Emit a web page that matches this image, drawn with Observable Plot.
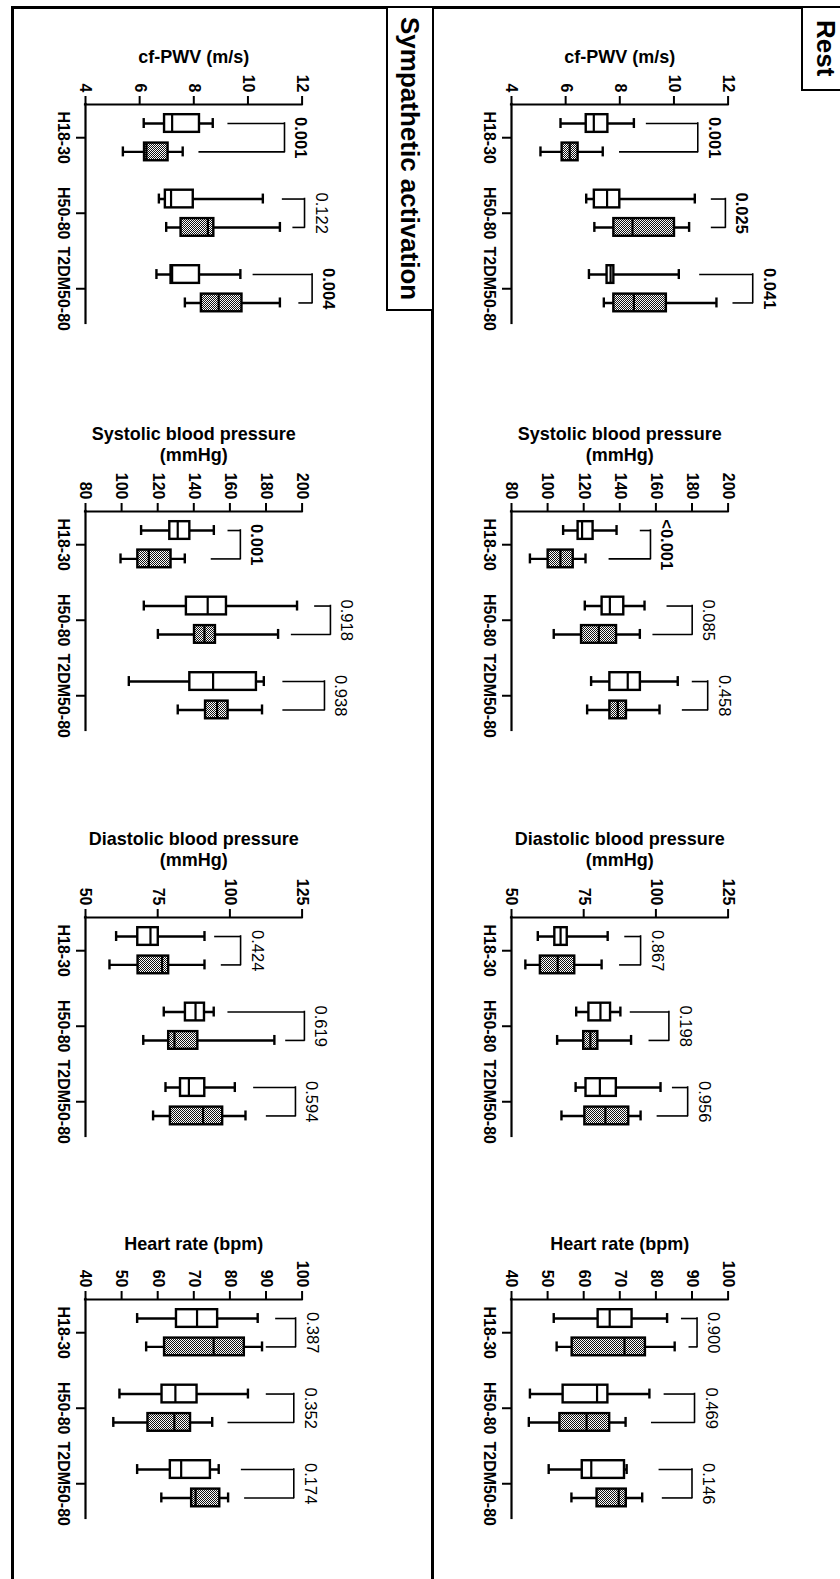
<!DOCTYPE html>
<html><head><meta charset="utf-8">
<script src="https://cdn.jsdelivr.net/npm/d3@7"></script>
<script src="https://cdn.jsdelivr.net/npm/@observablehq/plot@0.6"></script>
<style>
html,body{margin:0;padding:0;background:#fff;overflow:hidden;}
#page{position:relative;width:840px;height:1579px;overflow:hidden;background:#fff;font-family:"Liberation Sans",Arial,sans-serif;}
.line{position:absolute;background:#000;}
.label{position:absolute;border:2.6px solid #000;box-sizing:border-box;background:#fff;writing-mode:vertical-rl;font-weight:bold;font-size:26px;display:flex;align-items:center;justify-content:center;line-height:1;}
.sub{position:absolute;}
.sub svg{overflow:visible;}
</style></head>
<body>
<svg width="0" height="0" style="position:absolute">
  <defs>
    <pattern id="dots" width="2" height="2" patternUnits="userSpaceOnUse">
      <rect width="2" height="2" fill="#fff"></rect>
      <rect width="1" height="1" fill="#111"></rect>
      <rect x="1" y="1" width="1" height="1" fill="#111"></rect>
    </pattern>
  </defs>
</svg>
<div id="page">
  <div class="line" style="left:11px;top:6px;width:840px;height:2.6px"></div>
  <div class="line" style="left:11px;top:6px;width:2.6px;height:1600px"></div>
  <div class="line" style="left:431px;top:6px;width:2.6px;height:1600px"></div>
  <div class="label" style="left:386px;top:6px;width:47.6px;height:305px">Sympathetic activation</div>
  <div class="label" style="left:801px;top:6px;width:50px;height:85px">Rest</div>
</div>
<script>
// ---------- data ----------
const categories = ["H18-30", "H50-80", "T2DM50-80"];
const series = ["open", "hatched"]; // two unlabelled groups per category (open / hatched box)
const panels = ["Rest", "Sympathetic activation"];

const titles = ["cf-PWV (m/s)", "Systolic blood pressure\n(mmHg)", "Diastolic blood pressure\n(mmHg)", "Heart rate (bpm)"];
const pwvDomain = [4, 12], pwvTicks = [4, 6, 8, 10, 12];
const sbpDomain = [80, 200], sbpTicks = [80, 100, 120, 140, 160, 180, 200];
const dbpDomain = [50, 125], dbpTicks = [50, 75, 100, 125];
const hrDomain = [40, 100], hrTicks = [40, 50, 60, 70, 80, 90, 100];

// boxes: [min, q1, median, q3, max] ordered H18-30 open, H18-30 hatched, H50-80 open, ...
const restPwv = [[5.81,6.76,7.04,7.56,8.52],[5.07,5.87,6.15,6.46,7.37],[6.76,7.06,7.53,8.00,10.77],[7.06,7.78,8.47,10.02,10.56],[6.86,7.53,7.66,7.78,10.18],[7.41,7.78,8.52,9.72,11.57]];
const sympPwv = [[6.15,6.92,7.20,8.21,8.70],[5.38,6.18,6.25,7.05,7.59],[6.71,6.95,7.16,7.98,10.55],[6.98,7.53,8.52,8.74,11.18],[6.62,7.16,7.20,8.21,9.72],[7.67,8.28,8.92,9.78,11.18]];
const restSbp = [[108.6,116.9,119.1,125.2,138.2],[90.2,100.3,107.1,114.2,121.0],[120.6,130.2,134.5,142.2,153.7],[103.4,118.8,128.4,138.2,151.1],[124.1,134.5,144.4,151.4,172.1],[121.9,134.5,138.9,143.7,162.0]];
const sympSbp = [[110.8,126.7,131.1,137.8,151.1],[99.4,109.0,115.1,127.4,135.0],[112.3,135.9,147.7,158.1,197.2],[120.1,140.4,145.9,152.0,186.7],[104.0,137.8,150.7,174.7,178.8],[131.1,146.5,152.9,159.0,177.8]];
const restDbp = [[59.1,65.0,67.0,69.3,83.3],[54.8,60.0,66.0,71.9,81.2],[72.4,76.8,80.8,84.3,87.7],[65.8,75.0,77.3,79.9,91.4],[72.2,75.8,80.6,86.3,101.6],[67.3,75.4,82.5,90.6,94.7]];
const sympDbp = [[60.6,68.1,72.5,75.2,91.2],[58.3,68.2,76.5,78.8,91.2],[77.1,84.6,88.1,91.2,94.4],[70.0,78.8,80.8,88.9,115.4],[77.7,82.9,85.8,91.3,101.7],[73.4,79.4,90.7,97.5,105.4]];
const restHr = [[51.7,64.0,67.2,73.4,83.1],[52.5,56.8,71.3,77.1,85.2],[45.1,54.3,63.7,66.7,78.2],[44.8,53.4,60.8,67.2,71.6],[50.3,59.6,62.1,71.3,71.9],[56.6,63.7,69.7,71.8,76.2]];
const sympHr = [[54.3,65.2,70.9,76.6,87.7],[56.8,61.9,75.5,84.0,88.9],[49.4,61.2,64.9,70.9,85.0],[47.7,57.3,64.6,69.1,75.1],[54.3,63.5,66.5,74.6,76.9],[61.0,69.4,70.5,77.2,79.5]];

// comparison brackets (value units): [open-arm start, hatched-arm start, bracket line]
const restPwvBr = [[9.01,8.02,10.88],[11.41,11.41,11.90],[10.98,12.21,12.91]];
const sympPwvBr = [[9.29,8.22,11.35],[11.30,11.69,12.09],[10.22,11.91,12.37]];
const restSbpBr = [[151.8,134.5,157.0],[166.6,158.8,180.1],[180.6,175.1,188.7]];
const sympSbpBr = [[159.4,150.1,165.8],[207.4,194.5,215.7],[189.8,189.8,212.4]];
const restDbpBr = [[89.5,87.7,94.7],[91.4,97.9,104.5],[106.0,100.7,111.0]];
const sympDbpBr = [[95.0,97.3,103.7],[99.6,119.6,125.8],[108.5,112.9,122.7]];
const restHrBr = [[87.3,89.4,91.4],[82.5,79.0,90.7],[81.1,82.0,90.0]];
const sympHrBr = [[92.9,90.3,98.2],[90.3,79.7,97.7],[83.4,84.3,97.7]];

// p-values
const restPwvP = ["0.001","0.025","0.041"];
const sympPwvP = ["0.001","0.122","0.004"];
const restSbpP = ["<0.001","0.085","0.458"];
const sympSbpP = ["0.001","0.918","0.938"];
const restDbpP = ["0.867","0.198","0.956"];
const sympDbpP = ["0.424","0.619","0.594"];
const restHrP = ["0.900","0.469","0.146"];
const sympHrP = ["0.387","0.352","0.174"];

// ---------- layout ----------
const FONT = '"Liberation Sans", Arial, sans-serif';
const ML = 70, MT = 100, MR = 95, MB = 10, W = 216.6, H = 219;
const YDOM = [-0.44, 2.46];
const OFF = 0.188, HALF = 0.117, CAP = 0.066;
const panelX = {"Rest": 511, "Sympathetic activation": 85};
const rowY = [104, 510.7, 916.7, 1299.3];
const titleDy = [-41.5, -50, -51, -49.5];

function isSig(p) { return p.startsWith("<") || +p < 0.05; }

function subplot(panel, k, domain, ticks, boxes, br, pv) {
  const rows = boxes.map((b, i) => {
    const cat = Math.floor(i / 2), s = i % 2;
    return {cat, series: series[s], pos: cat + (s ? OFF : -OFF), min: b[0], q1: b[1], med: b[2], q3: b[3], max: b[4]};
  });
  const comps = br.map((b, i) => ({cat: i, a: b[0], b: b[1], v: b[2], p: pv[i]}));
  const chart = Plot.plot({
    width: ML + W + MR, height: MT + H + MB,
    marginLeft: ML, marginTop: MT, marginRight: MR, marginBottom: MB,
    x: {domain},
    y: {domain: YDOM, reverse: true},
    style: {fontFamily: FONT, fontSize: "16px", color: "#000", background: "transparent", overflow: "visible"},
    marks: [
      Plot.axisX({anchor: "top", ticks, tickSize: 9, tickPadding: 3, tickRotate: 90, textAnchor: "end", lineAnchor: "middle",
                  strokeWidth: 2, fontSize: 16, fontWeight: "bold", label: null, tickFormat: d => String(d)}),
      Plot.axisY({anchor: "left", ticks: [0, 1, 2], tickFormat: i => categories[i], tickSize: 9, tickPadding: 7,
                  tickRotate: 90, textAnchor: "middle", lineAnchor: "top", strokeWidth: 2, fontSize: 16, fontWeight: "bold", label: null}),
      Plot.ruleY([YDOM[0]], {strokeWidth: 2.2, strokeLinecap: "square"}),
      Plot.ruleX([domain[0]], {strokeWidth: 2.2, strokeLinecap: "square"}),
      // whiskers
      Plot.ruleY(rows, {y: "pos", x1: "min", x2: "max", strokeWidth: 2.4}),
      Plot.ruleX(rows, {x: "min", y1: d => d.pos - CAP, y2: d => d.pos + CAP, strokeWidth: 2.4}),
      Plot.ruleX(rows, {x: "max", y1: d => d.pos - CAP, y2: d => d.pos + CAP, strokeWidth: 2.4}),
      // boxes
      Plot.rect(rows, {x1: "q1", x2: "q3", y1: d => d.pos - HALF, y2: d => d.pos + HALF,
                       fill: d => d.series === "hatched" ? "url(#dots)" : "#fff", stroke: "#000", strokeWidth: 2.4}),
      Plot.ruleX(rows, {x: "med", y1: d => d.pos - HALF, y2: d => d.pos + HALF, strokeWidth: 2.2}),
      // comparison brackets
      Plot.ruleY(comps, {y: d => d.cat - OFF, x1: "a", x2: "v", strokeWidth: 1.6, strokeLinecap: "square"}),
      Plot.ruleY(comps, {y: d => d.cat + OFF, x1: "b", x2: "v", strokeWidth: 1.6, strokeLinecap: "square"}),
      Plot.ruleX(comps, {x: "v", y1: d => d.cat - OFF, y2: d => d.cat + OFF, strokeWidth: 1.6, strokeLinecap: "square"}),
      Plot.text(comps.filter(d => isSig(d.p)), {x: "v", y: "cat", text: "p", rotate: 90, textAnchor: "middle", lineAnchor: "bottom",
                       dx: 11, fontSize: 16.5, fontWeight: "bold", fill: "#000"}),
      Plot.text(comps.filter(d => !isSig(d.p)), {x: "v", y: "cat", text: "p", rotate: 90, textAnchor: "middle", lineAnchor: "bottom",
                       dx: 11, fontSize: 16.5, fontWeight: "normal", fill: "#000"}),
      // title
      Plot.text([titles[k]], {frameAnchor: "top", dy: titleDy[k], lineAnchor: "bottom", lineHeight: 1.2,
                              fontSize: 18, fontWeight: "bold", fill: "#000"})
    ]
  });
  const holder = document.createElement("div");
  holder.className = "sub";
  holder.style.left = (panelX[panel] - ML) + "px";
  holder.style.top = (rowY[k] - MT) + "px";
  holder.appendChild(chart);
  document.getElementById("page").appendChild(holder);
}

subplot("Rest", 0, pwvDomain, pwvTicks, restPwv, restPwvBr, restPwvP);
subplot("Rest", 1, sbpDomain, sbpTicks, restSbp, restSbpBr, restSbpP);
subplot("Rest", 2, dbpDomain, dbpTicks, restDbp, restDbpBr, restDbpP);
subplot("Rest", 3, hrDomain, hrTicks, restHr, restHrBr, restHrP);
subplot("Sympathetic activation", 0, pwvDomain, pwvTicks, sympPwv, sympPwvBr, sympPwvP);
subplot("Sympathetic activation", 1, sbpDomain, sbpTicks, sympSbp, sympSbpBr, sympSbpP);
subplot("Sympathetic activation", 2, dbpDomain, dbpTicks, sympDbp, sympDbpBr, sympDbpP);
subplot("Sympathetic activation", 3, hrDomain, hrTicks, sympHr, sympHrBr, sympHrP);
</script>
</body></html>
